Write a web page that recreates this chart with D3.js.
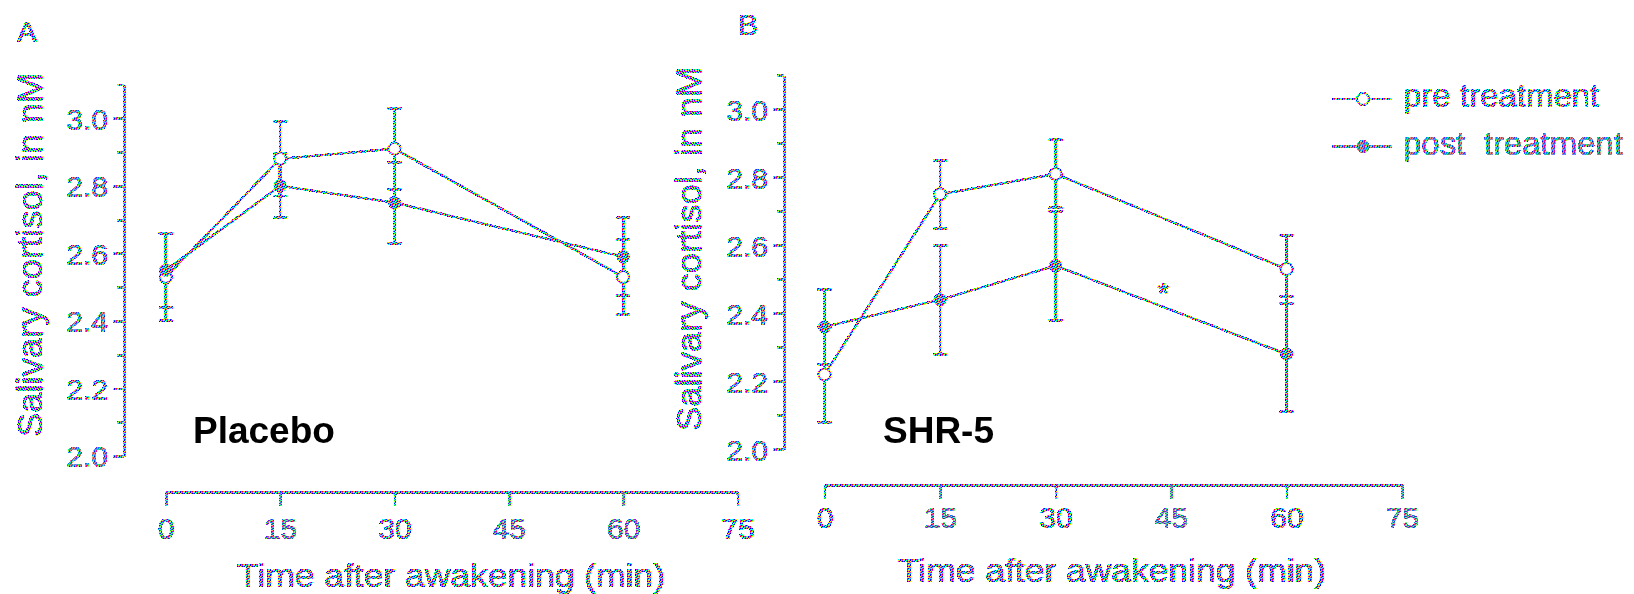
<!DOCTYPE html>
<html>
<head>
<meta charset="utf-8">
<script src="https://cdn.jsdelivr.net/npm/d3@7"></script>
<style>
  body { margin: 0; background: #fff; }
  svg { display: block; }
  text { font-family: "Liberation Sans", Arial, Helvetica, sans-serif; }
</style>
</head>
<body>
<svg width="1634" height="594"></svg>
<script>
// data (salivary cortisol, nM)
const times = [0, 15, 30, 60];
const xTicks = [0, 15, 30, 45, 60, 75];
const yTicks = [2.0, 2.2, 2.4, 2.6, 2.8, 3.0];
const yMinorTicks = [2.1, 2.3, 2.5, 2.7, 2.9, 3.1];

const placeboPre = [2.53, 2.88, 2.91, 2.53];
const placeboPreErr = [0.13, 0.11, 0.12, 0.11];
const placeboPost = [2.55, 2.80, 2.75, 2.59];
const placeboPostErr = [0.11, 0.095, 0.12, 0.115];

const shrPre = [2.22, 2.75, 2.81, 2.53];
const shrPreErr = [0.14, 0.10, 0.10, 0.10];
const shrPost = [2.36, 2.44, 2.54, 2.28];
const shrPostErr = [0.11, 0.16, 0.16, 0.17];

const legendLabels = ["pre treatment", "post  treatment"];

const svg = d3.select("svg");
const defs = svg.append("defs");

// the scan is colour-dithered, so fill strokes and text with a small pixel pattern
const ditherRows = ["BCMYC", "YGBMB", "MBCYC", "CYMBG", "BMRCY"];
const ditherCols = { B: "#0000ff", C: "#00ffff", M: "#ff00ff", Y: "#ffff00", G: "#00ff00", R: "#ff0000" };
const pat = defs.append("pattern")
    .attr("id", "dither")
    .attr("width", 5).attr("height", 5)
    .attr("patternUnits", "userSpaceOnUse");
ditherRows.forEach((row, j) => {
    row.split("").forEach((c, i) => {
        pat.append("rect").attr("x", i).attr("y", j).attr("width", 1).attr("height", 1)
            .attr("fill", ditherCols[c]).attr("shape-rendering", "crispEdges");
    });
});
const INK = "url(#dither)";

// hard alpha threshold -> no soft grey edges, like the scan
const crisp = defs.append("filter").attr("id", "crisp")
    .attr("filterUnits", "userSpaceOnUse")
    .attr("x", 0).attr("y", 0).attr("width", 1634).attr("height", 594);
crisp.append("feComponentTransfer").append("feFuncA")
    .attr("type", "discrete").attr("tableValues", "0 1 1");

const ink = svg.append("g").attr("filter", "url(#crisp)");

// coloured text is a bit heavier in the scan
function inkText(sel) {
    return sel.attr("fill", INK).attr("stroke", INK).attr("stroke-width", 0.7);
}

function drawPanel(p) {
    const x = d3.scaleLinear().domain([0, 75]).range(p.xRange);
    const y = d3.scaleLinear().domain([2.0, 3.1]).range(p.yRange);

    // y axis
    const gy = ink.append("g").attr("transform", `translate(${p.yAxisX},0)`)
        .call(d3.axisLeft(y).tickValues(yTicks).tickSize(11).tickSizeOuter(0).tickPadding(5)
            .tickFormat(d3.format(".1f")));
    gy.select(".domain").attr("stroke", INK).attr("stroke-width", 2.5);
    gy.selectAll(".tick line").attr("stroke", INK).attr("stroke-width", 2.5);
    inkText(gy.selectAll(".tick text")).style("font-size", "30px").attr("dy", "0.36em");

    const gm = ink.append("g").attr("transform", `translate(${p.yAxisX},0)`)
        .call(d3.axisLeft(y).tickValues(yMinorTicks).tickSize(7).tickFormat(""));
    gm.select(".domain").remove();
    gm.selectAll(".tick line").attr("stroke", INK).attr("stroke-width", 2.5);

    // x axis, detached below the plot
    const gx = ink.append("g").attr("transform", `translate(0,${p.xAxisY})`)
        .call(d3.axisBottom(x).tickValues(xTicks).tickSize(14).tickSizeOuter(0));
    gx.select(".domain").attr("stroke", INK).attr("stroke-width", 3.5);
    gx.selectAll(".tick line").attr("stroke", INK).attr("stroke-width", 2.5);
    inkText(gx.selectAll(".tick text")).style("font-size", "30px")
        .attr("y", p.xTickBase).attr("dy", 0);

    // axis titles
    inkText(ink.append("text"))
        .attr("transform", `translate(${p.yTitleX},${p.yTitleY})rotate(-90)`)
        .attr("text-anchor", "middle")
        .style("font-size", "35px")
        .attr("textLength", 364).attr("lengthAdjust", "spacingAndGlyphs")
        .text("Salivary cortisol, in nM");

    inkText(ink.append("text"))
        .attr("x", p.xTitleX).attr("y", p.xTitleY)
        .attr("text-anchor", "middle")
        .style("font-size", "34px")
        .attr("textLength", 428).attr("lengthAdjust", "spacingAndGlyphs")
        .text("Time after awakening (min)");

    // panel letter + group name
    inkText(ink.append("text")).attr("x", p.letterX).attr("y", p.letterY)
        .style("font-size", "30px").text(p.letter);
    svg.append("text").attr("x", p.nameX).attr("y", 443)
        .attr("fill", "#000").style("font-size", "37px").style("font-weight", "bold")
        .text(p.name);

    const line = d3.line().x(d => x(d.t)).y(d => y(d.v));
    const series = [
        { vals: p.pre, err: p.preErr, open: true },
        { vals: p.post, err: p.postErr, open: false }
    ].map(s => ({ open: s.open, pts: times.map((t, i) => ({ t: t, v: s.vals[i], e: s.err[i] })) }));

    series.forEach(s => {
        ink.append("path").datum(s.pts)
            .attr("d", line)
            .attr("fill", "none")
            .attr("stroke", INK)
            .attr("stroke-width", 2.2);
    });

    series.forEach(s => {
        const eb = ink.append("g");
        eb.selectAll("line.bar").data(s.pts).enter().append("line")
            .attr("x1", d => x(d.t)).attr("x2", d => x(d.t))
            .attr("y1", d => y(d.v - d.e)).attr("y2", d => y(d.v + d.e))
            .attr("stroke", INK).attr("stroke-width", 2.5);
        [-1, 1].forEach(sg => {
            eb.selectAll("line.cap" + sg).data(s.pts).enter().append("line")
                .attr("x1", d => x(d.t) - 7).attr("x2", d => x(d.t) + 7)
                .attr("y1", d => y(d.v + sg * d.e)).attr("y2", d => y(d.v + sg * d.e))
                .attr("stroke", INK).attr("stroke-width", 2.5);
        });
    });

    series.forEach(s => {
        ink.append("g").selectAll("circle").data(s.pts).enter().append("circle")
            .attr("cx", d => x(d.t)).attr("cy", d => y(d.v))
            .attr("r", s.open ? 6 : 5.5)
            .attr("fill", s.open ? "#fff" : INK)
            .attr("stroke", INK).attr("stroke-width", 2);
    });

    return { x: x, y: y };
}

drawPanel({
    xRange: [165.7, 737.5], yRange: [456, 84.5],
    yAxisX: 124, xAxisY: 492, xTickBase: 47,
    yTitleX: 42, yTitleY: 255, xTitleX: 451, xTitleY: 587,
    letter: "A", letterX: 17, letterY: 42,
    name: "Placebo", nameX: 193,
    pre: placeboPre, preErr: placeboPreErr, post: placeboPost, postErr: placeboPostErr
});

const pb = drawPanel({
    xRange: [824.5, 1402], yRange: [449.3, 75.3],
    yAxisX: 784, xAxisY: 485, xTickBase: 43,
    yTitleX: 701, yTitleY: 249, xTitleX: 1112, xTitleY: 582,
    letter: "B", letterX: 738, letterY: 35,
    name: "SHR-5", nameX: 883,
    pre: shrPre, preErr: shrPreErr, post: shrPost, postErr: shrPostErr
});

// significance mark between 30 and 60 min, post treatment
inkText(ink.append("text"))
    .attr("x", pb.x(44)).attr("y", pb.y(2.43))
    .attr("text-anchor", "middle")
    .style("font-size", "30px")
    .text("*");

// legend
const legend = ink.append("g").attr("transform", "translate(1332,99)");
legendLabels.forEach((lab, i) => {
    const g = legend.append("g").attr("transform", `translate(0,${i * 47.5})`);
    g.append("line").attr("x1", 0).attr("x2", 60).attr("y1", 0).attr("y2", 0)
        .attr("stroke", INK).attr("stroke-width", 2.2);
    g.append("circle").attr("cx", 31).attr("cy", 0).attr("r", i === 0 ? 6 : 5.5)
        .attr("fill", i === 0 ? "#fff" : INK).attr("stroke", INK).attr("stroke-width", 2);
    inkText(g.append("text")).attr("x", 71).attr("y", 8)
        .style("font-size", "33px").style("white-space", "pre")
        .text(lab);
});
</script>
</body>
</html>
